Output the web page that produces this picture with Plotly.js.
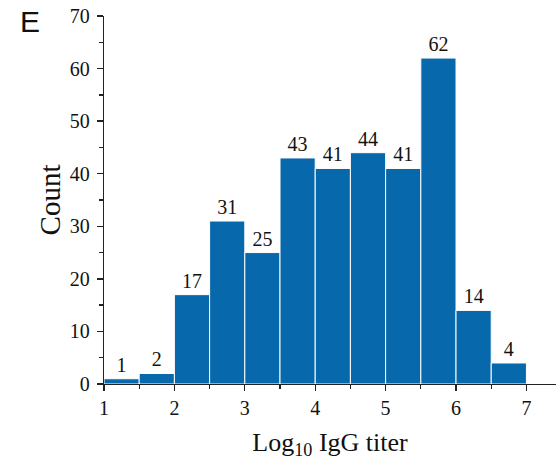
<!DOCTYPE html>
<html><head><meta charset="utf-8">
<script src="https://cdn.plot.ly/plotly-3.0.1.min.js"></script>
<style>html,body{margin:0;padding:0;background:#fff}</style>
</head><body>
<div id="chart" style="width:556px;height:468px"></div>
<script>
const binStarts = [1, 1.5, 2, 2.5, 3, 3.5, 4, 4.5, 5, 5.5, 6, 6.5];
const binWidth = 0.5;
const counts = [1, 2, 17, 31, 25, 43, 41, 44, 41, 62, 14, 4];
const xTickVals = [1, 2, 3, 4, 5, 6, 7];
const yTickVals = [0, 10, 20, 30, 40, 50, 60, 70];

const trace = {
  type: 'bar',
  x: binStarts.map(v => v + binWidth / 2),
  y: counts,
  width: binWidth,
  marker: {color: '#0868AC', line: {color: '#ffffff', width: 1}},
  text: counts.map(String),
  textposition: 'outside',
  cliponaxis: false,
  textfont: {family: 'Liberation Serif', size: 20, color: '#111'},
  hoverinfo: 'skip'
};
const layout = {
  width: 556, height: 468,
  margin: {l: 104, r: 0, t: 16, b: 84},
  paper_bgcolor: '#fff', plot_bgcolor: '#fff',
  showlegend: false,
  bargap: 0,
  font: {family: 'Liberation Serif', color: '#111'},
  xaxis: {
    range: [1, 7.42], tickvals: xTickVals, ticks: 'outside', ticklen: 6, tickwidth: 1.3,
    tickcolor: '#222', showline: true, linecolor: '#222', linewidth: 1.3,
    showgrid: false, zeroline: false,
    tickfont: {family: 'Liberation Serif', size: 20, color: '#111'},
    minor: {dtick: 0.5, tick0: 1, ticks: 'outside', ticklen: 4, tickcolor: '#222', showgrid: false},
    title: {text: 'Log<sub>10</sub> IgG titer', font: {family: 'Liberation Serif', size: 26, color: '#111'}, standoff: 14}
  },
  yaxis: {
    range: [0, 70], tickvals: yTickVals, ticks: 'outside', ticklen: 6, tickwidth: 1.3,
    tickcolor: '#222', showline: true, linecolor: '#222', linewidth: 1.3,
    showgrid: false, zeroline: false, ticklabelstandoff: 3,
    tickfont: {family: 'Liberation Serif', size: 20, color: '#111'},
    minor: {dtick: 5, tick0: 0, ticks: 'outside', ticklen: 4, tickcolor: '#222', showgrid: false},
    title: {text: 'Count', font: {family: 'Liberation Serif', size: 29, color: '#111'}, standoff: 0}
  },
  annotations: [{
    text: 'E', xref: 'paper', yref: 'paper', x: -0.19, y: 1.035, xanchor: 'left', yanchor: 'top',
    showarrow: false, font: {family: 'Liberation Sans', size: 30, color: '#111'}
  }]
};
Plotly.newPlot('chart', [trace], layout, {displayModeBar: false, staticPlot: true});
</script>
</body></html>
